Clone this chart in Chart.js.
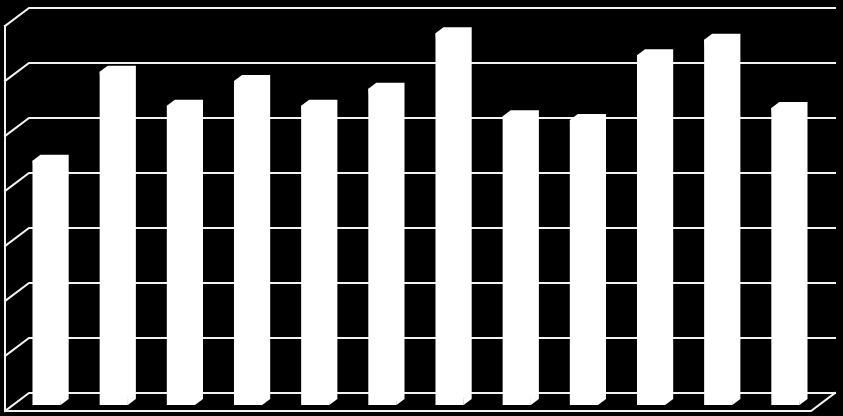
<!DOCTYPE html>
<html>
<head>
<meta charset="utf-8">
<script src="https://cdn.jsdelivr.net/npm/chart.js@4"></script>
<style>
  html, body { margin: 0; padding: 0; background: #000; }
  #grafica { display: block; }
</style>
</head>
<body>
<canvas id="grafica" width="843" height="416"></canvas>
<script>
// datos de la gráfica (12 barras, sin rótulos visibles)
const categorias = ['1', '2', '3', '4', '5', '6', '7', '8', '9', '10', '11', '12'];
const valores = [44.4, 60.6, 54.4, 58.9, 54.4, 57.5, 67.6, 52.5, 51.8, 63.6, 66.4, 54.0];
const ticksY = [0, 10, 20, 30, 40, 50, 60, 70];

// profundidad del efecto 3D (un tercio del fondo del suelo)
const PX = 8, PY = 6;
const colorLinea = '#f2f2f2';

// paredes, suelo y caras laterales de las barras
const plugin3D = {
  id: 'plugin3D',
  beforeDraw(chart) {
    const ctx = chart.ctx;
    ctx.save();
    ctx.fillStyle = '#000';
    ctx.fillRect(0, 0, chart.width, chart.height);
    ctx.restore();
  },
  beforeDatasetsDraw(chart) {
    const ctx = chart.ctx;
    const area = chart.chartArea;
    const y = chart.scales.y;
    // pared del fondo en +2 profundidades, frente del suelo en -1
    const fondoIzq = Math.round(area.left + 2 * PX), fondoDer = Math.round(area.right + 2 * PX);
    const frenteIzq = Math.round(area.left - PX), frenteDer = Math.round(area.right - PX);
    ctx.save();
    ctx.strokeStyle = colorLinea;
    ctx.lineWidth = 2;
    ctx.lineCap = 'square';
    ticksY.forEach(v => {
      const yy = Math.round(y.getPixelForValue(v) - 2 * PY);
      ctx.beginPath();
      ctx.moveTo(fondoDer, yy);
      ctx.lineTo(fondoIzq, yy);
      ctx.lineTo(frenteIzq, yy + 3 * PY);
      ctx.stroke();
    });
    // arista izquierda delantera y borde del suelo
    const yTop = Math.round(y.getPixelForValue(ticksY[ticksY.length - 1]) + PY);
    const yBase = Math.round(y.getPixelForValue(0) + PY);
    ctx.beginPath();
    ctx.moveTo(frenteIzq, yTop);
    ctx.lineTo(frenteIzq, yBase);
    ctx.lineTo(frenteDer, yBase);
    ctx.lineTo(fondoDer, yBase - 3 * PY);
    ctx.stroke();

    // caras superior y lateral de las barras
    ctx.fillStyle = '#ffffff';
    chart.getDatasetMeta(0).data.forEach(bar => {
      const x0 = bar.x - bar.width / 2, x1 = bar.x + bar.width / 2;
      const top = bar.y, base = bar.base;
      ctx.beginPath();
      ctx.moveTo(x0, top);
      ctx.lineTo(x0 + PX, top - PY);
      ctx.lineTo(x1 + PX, top - PY);
      ctx.lineTo(x1 + PX, base - PY);
      ctx.lineTo(x1, base);
      ctx.closePath();
      ctx.fill();
    });
    ctx.restore();
  }
};

new Chart(document.getElementById('grafica'), {
  type: 'bar',
  data: {
    labels: categorias,
    datasets: [{
      data: valores,
      backgroundColor: '#ffffff',
      borderWidth: 0,
      categoryPercentage: 1,
      barPercentage: 0.42
    }]
  },
  options: {
    responsive: false,
    animation: false,
    devicePixelRatio: 1,
    layout: { padding: { left: 13, right: 24, top: 20, bottom: 11 } },
    scales: {
      x: { display: false },
      y: { display: false, min: 0, max: 70 }
    },
    plugins: {
      legend: { display: false },
      tooltip: { enabled: false }
    }
  },
  plugins: [plugin3D]
});
</script>
</body>
</html>
